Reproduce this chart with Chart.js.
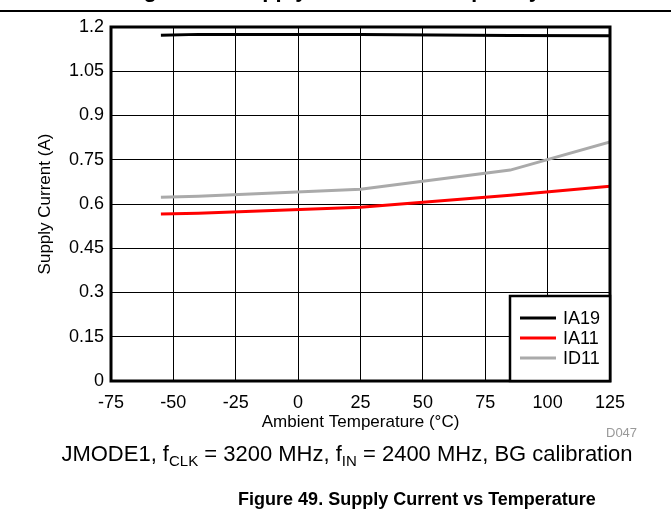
<!DOCTYPE html>
<html>
<head>
<meta charset="utf-8">
<script src="https://cdn.jsdelivr.net/npm/chart.js@4.4.1/dist/chart.umd.min.js"></script>
<style>
  body { margin: 0; background: #fff; font-family: "Liberation Sans", Arial, sans-serif; }
  #wrap { position: relative; width: 671px; height: 514px; overflow: hidden; background: #fff; }
  #chart { position: absolute; left: 0; top: 0; }
  .txt { position: absolute; white-space: nowrap; color: #000; }
  #topTitle { left: 124px; top: -21px; font-weight: bold; font-size: 22px; line-height: 22px; }
  #topRule { position: absolute; left: 0; top: 10px; width: 671px; height: 2px; background: #000; }
  #code { left: 606px; top: 425px; font-size: 13px; color: #999; }
  #cond { left: 0; width: 694px; text-align: center; top: 441px; font-size: 22px; }
  #cond sub { font-size: 15px; vertical-align: -5px; line-height: 0; }
  #fig { left: 0; width: 834px; text-align: center; top: 489px; font-size: 18px; font-weight: bold; }
</style>
</head>
<body>
<div id="wrap">
  <canvas id="chart" width="671" height="514"></canvas>
  <div class="txt" id="topTitle">Figure 48. Supply Current vs Frequency</div>
  <div id="topRule"></div>
  <div class="txt" id="code">D047</div>
  <div class="txt" id="cond">JMODE1, f<sub>CLK</sub> = 3200 MHz, f<sub>IN</sub> = 2400 MHz, BG calibration</div>
  <div class="txt" id="fig">Figure 49. Supply Current vs Temperature</div>
</div>
<script>
/* --------------- Data --------------- */
const temps = [-55, -40, 25, 85, 125];
const ia19 = [1.172, 1.175, 1.175, 1.171, 1.170];
const ia11 = [0.566, 0.569, 0.589, 0.630, 0.660];
const id11 = [0.623, 0.626, 0.650, 0.715, 0.810];
const seriesNames = ["IA19", "IA11", "ID11"];
const seriesColors = ["#000000", "#ff0000", "#aaaaaa"];
const xTicks = [-75, -50, -25, 0, 25, 50, 75, 100, 125];
const yTicks = [0, 0.15, 0.3, 0.45, 0.6, 0.75, 0.9, 1.05, 1.2];
const yTickLabels = ["0", "0.15", "0.3", "0.45", "0.6", "0.75", "0.9", "1.05", "1.2"];

const font = { family: "'Liberation Sans', Arial, sans-serif", size: 18 };

const toPoints = (vals) => temps.map((t, i) => ({ x: t, y: vals[i] }));
const allSeries = [ia19, ia11, id11];

/* --------------- Frame + legend box --------------- */
const framePlugin = {
  id: "frame",
  afterDatasetsDraw(chart) {
    const { ctx, chartArea: a } = chart;
    ctx.save();
    ctx.strokeStyle = "#000";
    ctx.lineWidth = 3;
    ctx.strokeRect(a.left, a.top, a.right - a.left, a.bottom - a.top);

    // legend in the lower right corner
    const w = 100, h = 85;
    const lx = a.right - w, ly = a.bottom - h;
    ctx.fillStyle = "#fff";
    ctx.fillRect(lx, ly, w, h);
    ctx.lineWidth = 2.5;
    ctx.strokeRect(lx, ly, w, h);
    ctx.font = "18px 'Liberation Sans', Arial, sans-serif";
    ctx.textBaseline = "middle";
    chart.data.datasets.forEach((ds, i) => {
      const y = ly + 22 + i * 20;
      ctx.strokeStyle = ds.borderColor;
      ctx.lineWidth = 3;
      ctx.beginPath();
      ctx.moveTo(lx + 10, y);
      ctx.lineTo(lx + 46, y);
      ctx.stroke();
      ctx.fillStyle = "#000";
      ctx.fillText(ds.label, lx + 53, y + 1);
    });
    ctx.restore();
  },
};

new Chart(document.getElementById("chart"), {
  type: "line",
  data: {
    datasets: allSeries.map((vals, i) => ({
      label: seriesNames[i],
      data: toPoints(vals),
      borderColor: seriesColors[i],
      borderWidth: 3,
      pointRadius: 0,
      tension: 0,
    })),
  },
  options: {
    responsive: false,
    devicePixelRatio: 1,
    animation: false,
    layout: { padding: { left: 0, top: 27, right: 61, bottom: 78 } },
    plugins: { legend: { display: false }, tooltip: { enabled: false } },
    scales: {
      x: {
        type: "linear",
        min: -75,
        max: 125,
        afterFit: (s) => { s.height = 55; },
        afterBuildTicks: (s) => { s.ticks = xTicks.map((v) => ({ value: v })); },
        grid: { color: "#000", lineWidth: 1, drawTicks: false },
        border: { display: false },
        ticks: { color: "#000", font, padding: 11, maxRotation: 0, callback: (v) => String(v) },
        title: { display: true, text: "Ambient Temperature (°C)", color: "#000", font: { ...font, size: 17 }, padding: { top: 0, bottom: 3 } },
      },
      y: {
        min: 0,
        max: 1.2,
        afterFit: (s) => { s.width = 111; },
        afterBuildTicks: (s) => { s.ticks = yTicks.map((v) => ({ value: v })); },
        grid: { color: "#000", lineWidth: 1, drawTicks: false },
        border: { display: false },
        ticks: { color: "#000", font, padding: 7, callback: (v, i) => yTickLabels[i] },
        title: { display: true, text: "Supply Current (A)", color: "#000", font: { ...font, size: 17 }, padding: { top: 35, bottom: 0 } },
      },
    },
  },
  plugins: [framePlugin],
});
</script>
</body>
</html>
